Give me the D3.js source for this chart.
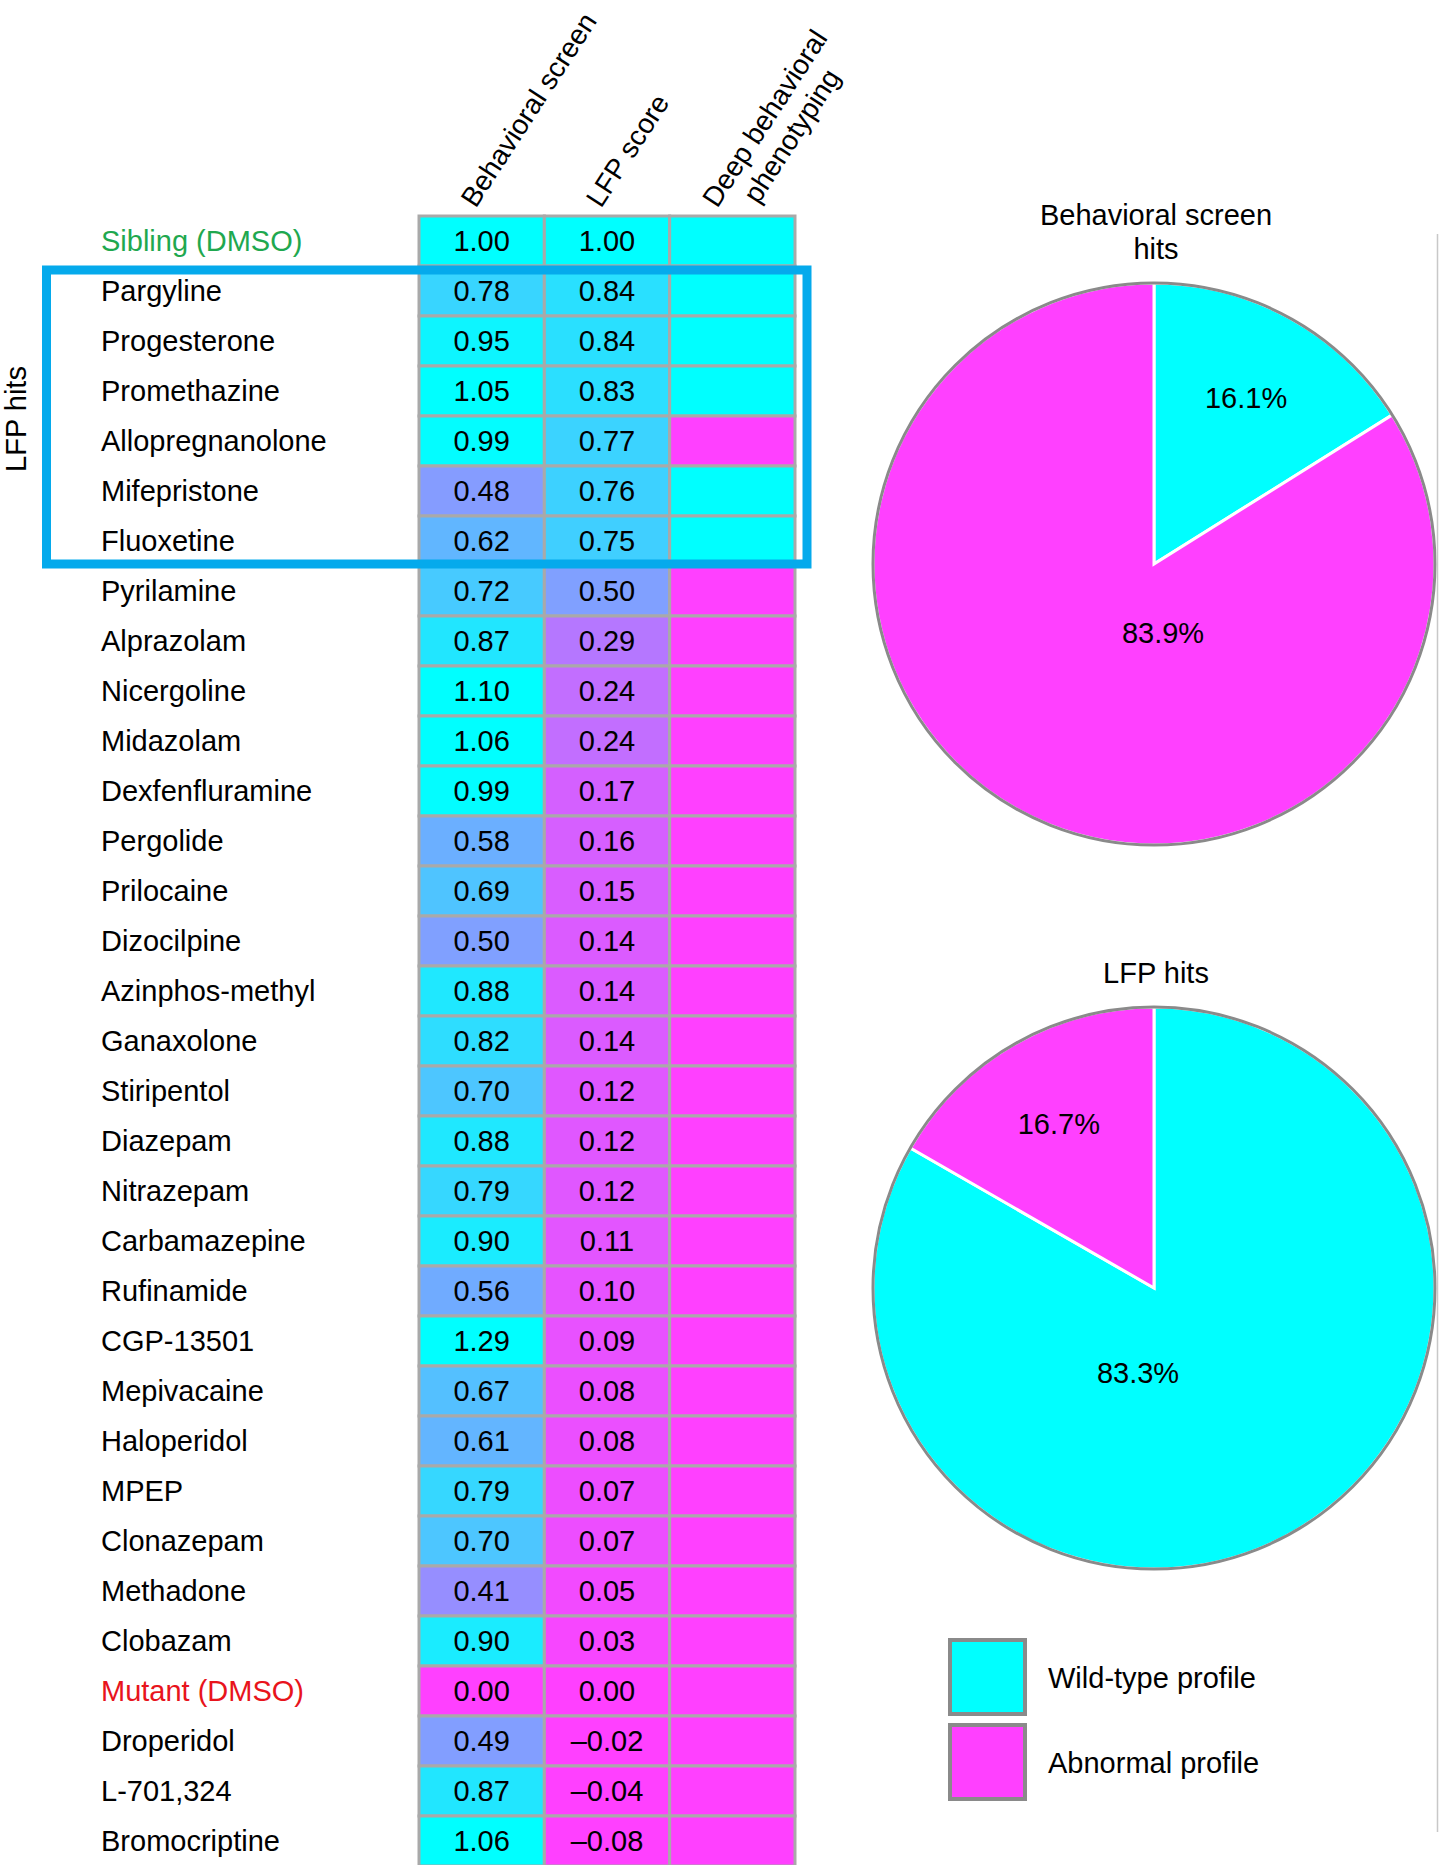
<!DOCTYPE html>
<html>
<head>
<meta charset="utf-8">
<script src="https://cdn.jsdelivr.net/npm/d3@7"></script>
<style>
  body { margin: 0; background: #fff; }
  text { font-family: "Liberation Sans", Arial, Helvetica, sans-serif; }
</style>
</head>
<body>
<div id="chart"></div>
<script>
const W = 1439, H = 1865

// ---- data ----
const drugs = ["Sibling (DMSO)", "Pargyline", "Progesterone", "Promethazine", "Allopregnanolone",
  "Mifepristone", "Fluoxetine", "Pyrilamine", "Alprazolam", "Nicergoline", "Midazolam",
  "Dexfenfluramine", "Pergolide", "Prilocaine", "Dizocilpine", "Azinphos-methyl", "Ganaxolone",
  "Stiripentol", "Diazepam", "Nitrazepam", "Carbamazepine", "Rufinamide", "CGP-13501",
  "Mepivacaine", "Haloperidol", "MPEP", "Clonazepam", "Methadone", "Clobazam", "Mutant (DMSO)",
  "Droperidol", "L-701,324", "Bromocriptine"]
const behavioralScreen = [1.00, 0.78, 0.95, 1.05, 0.99, 0.48, 0.62, 0.72, 0.87, 1.10, 1.06,
  0.99, 0.58, 0.69, 0.50, 0.88, 0.82, 0.70, 0.88, 0.79, 0.90, 0.56, 1.29,
  0.67, 0.61, 0.79, 0.70, 0.41, 0.90, 0.00, 0.49, 0.87, 1.06]
const lfpScore = [1.00, 0.84, 0.84, 0.83, 0.77, 0.76, 0.75, 0.50, 0.29, 0.24, 0.24,
  0.17, 0.16, 0.15, 0.14, 0.14, 0.14, 0.12, 0.12, 0.12, 0.11, 0.10, 0.09,
  0.08, 0.08, 0.07, 0.07, 0.05, 0.03, 0.00, -0.02, -0.04, -0.08]
// deep behavioral phenotyping: "wt" = wild-type profile, "ab" = abnormal profile
const deepPhenotype = ["wt", "wt", "wt", "wt", "ab", "wt", "wt", "ab", "ab", "ab", "ab",
  "ab", "ab", "ab", "ab", "ab", "ab", "ab", "ab", "ab", "ab", "ab", "ab",
  "ab", "ab", "ab", "ab", "ab", "ab", "ab", "ab", "ab", "ab"]
const columns = ["Behavioral screen", "LFP score", "Deep behavioral phenotyping"]
const columnLabels = [["Behavioral screen"], ["LFP score"], ["Deep behavioral", "phenotyping"]]
const lfpHitDrugs = ["Pargyline", "Progesterone", "Promethazine", "Allopregnanolone", "Mifepristone", "Fluoxetine"]

const profileTypes = ["wt", "ab"]
const profileNames = ["Wild-type profile", "Abnormal profile"]
const behavioralHitsPct = [16.1, 83.9]   // wt, ab
const lfpHitsPct = [83.3, 16.7]          // wt, ab
const pieTitles = [["Behavioral screen", "hits"], ["LFP hits"]]

const CYAN = "#00ffff", MAGENTA = "#ff40ff", GRID = "#a9a9a9"
const FS = 29

const svg = d3.select("#chart").append("svg")
  .attr("width", W).attr("height", H)

// ---- table ----
const x = d3.scaleBand().domain(columns).range([419, 795])
const y = d3.scaleBand().domain(drugs).range([216, 1866])
const scoreColor = d3.scaleLinear().domain([0, 1]).range([MAGENTA, CYAN]).clamp(true)
const profileColor = d3.scaleOrdinal().domain(profileTypes).range([CYAN, MAGENTA])

const rows = drugs.map((d, i) => ({
  name: d,
  cells: [
    { col: columns[0], v: behavioralScreen[i], fill: scoreColor(behavioralScreen[i]) },
    { col: columns[1], v: lfpScore[i], fill: scoreColor(lfpScore[i]) },
    { col: columns[2], v: null, fill: profileColor(deepPhenotype[i]) }
  ]
}))

const fmt = v => (v < 0 ? "\u2013" : "") + Math.abs(v).toFixed(2)

const row = svg.append("g").selectAll("g").data(rows).join("g")
  .attr("transform", d => `translate(0,${y(d.name)})`)

row.selectAll("rect").data(d => d.cells).join("rect")
  .attr("x", d => x(d.col))
  .attr("width", x.bandwidth())
  .attr("height", y.bandwidth())
  .attr("fill", d => d.fill)
  .attr("stroke", GRID)
  .attr("stroke-width", 3)

row.selectAll("text.val").data(d => d.cells.filter(c => c.v !== null)).join("text")
  .attr("class", "val")
  .attr("x", d => x(d.col) + x.bandwidth() / 2)
  .attr("y", y.bandwidth() / 2 + 10)
  .attr("text-anchor", "middle")
  .attr("font-size", FS)
  .attr("fill", "#000")
  .text(d => fmt(d.v))

row.append("text")
  .attr("x", 101)
  .attr("y", y.bandwidth() / 2 + 10)
  .attr("font-size", FS)
  .attr("fill", d => d.name === "Sibling (DMSO)" ? "#1fa84f" : d.name === "Mutant (DMSO)" ? "#e8141c" : "#000")
  .text(d => d.name)

// column headers (rotated)
const ANGLE = -57
const hdr = svg.append("g").selectAll("g").data(columns).join("g")
  .attr("transform", (d, i) => `translate(${x(d) + x.bandwidth() / 2 + (i === 2 ? -15 : -6)},209) rotate(${ANGLE})`)
hdr.each(function (d, i) {
  const g = d3.select(this)
  const lines = columnLabels[i]
  const t = lines.map((l, j) => g.append("text")
    .attr("font-size", 28)
    .attr("y", j * 32)
    .text(l))
  if (t.length > 1) {
    const l0 = t[0].node().getComputedTextLength()
    t.slice(1).forEach(tt => tt.attr("x", (l0 - tt.node().getComputedTextLength()) / 2))
  }
})

// LFP hits box
const first = lfpHitDrugs[0], last = lfpHitDrugs[lfpHitDrugs.length - 1]
const boxTop = y(first) + 4, boxBottom = y(last) + y.bandwidth() - 2
svg.append("rect")
  .attr("x", 46.5).attr("y", boxTop)
  .attr("width", 807 - 46.5).attr("height", boxBottom - boxTop)
  .attr("fill", "none")
  .attr("stroke", "#05aaec")
  .attr("stroke-width", 9)

svg.append("text")
  .attr("transform", `translate(26,${(boxTop + boxBottom) / 2 + 2}) rotate(-90)`)
  .attr("text-anchor", "middle")
  .attr("font-size", FS)
  .text("LFP hits")

// ---- pies ----
const R = 281
const pies = [
  { cx: 1154, cy: 564, titleY: 225, values: behavioralHitsPct, bigDx: 9, bigDy: 69 },
  { cx: 1154, cy: 1288, titleY: 983, values: lfpHitsPct, bigDx: -16, bigDy: 85 }
]
const pie = d3.pie().sort(null).value(d => d.v)
const arc = d3.arc().innerRadius(0).outerRadius(R)
const labelArc = d3.arc().innerRadius(190).outerRadius(190)

pies.forEach((p, k) => {
  const g = svg.append("g").attr("transform", `translate(${p.cx},${p.cy})`)
  const data = p.values.map((v, i) => ({ v: v, type: profileTypes[i] }))
  const arcs = pie(data)
  g.selectAll("path").data(arcs).join("path")
    .attr("d", arc)
    .attr("fill", d => profileColor(d.data.type))
    .attr("stroke", "#fff")
    .attr("stroke-width", 3)
  g.append("circle").attr("r", R)
    .attr("fill", "none").attr("stroke", "#8a8a8a").attr("stroke-width", 3)
  g.selectAll("text.pct").data(arcs).join("text")
    .attr("class", "pct")
    .attr("transform", d => {
      if (d.data.v > 50) return `translate(${p.bigDx},${p.bigDy + 10})`
      const c = labelArc.centroid(d)
      return `translate(${c[0]},${c[1] + 10})`
    })
    .attr("text-anchor", "middle")
    .attr("font-size", FS)
    .text(d => d.data.v.toFixed(1) + "%")

  pieTitles[k].forEach((t, j) => {
    svg.append("text")
      .attr("x", 1156).attr("y", p.titleY + j * 34)
      .attr("text-anchor", "middle")
      .attr("font-size", FS)
      .text(t)
  })
})

// thin panel border at right edge
svg.append("line")
  .attr("x1", 1437.5).attr("x2", 1437.5).attr("y1", 234).attr("y2", 1832)
  .attr("stroke", "#c8c8c8").attr("stroke-width", 1.5)

// ---- legend ----
const legend = svg.append("g").selectAll("g").data(profileTypes).join("g")
  .attr("transform", (d, i) => `translate(950,${1640 + i * 85})`)
legend.append("rect")
  .attr("width", 75).attr("height", 74)
  .attr("fill", d => profileColor(d))
  .attr("stroke", "#8a8a8a").attr("stroke-width", 4)
legend.append("text")
  .attr("x", 98).attr("y", 48)
  .attr("font-size", FS)
  .text((d, i) => profileNames[i])
</script>
</body>
</html>
